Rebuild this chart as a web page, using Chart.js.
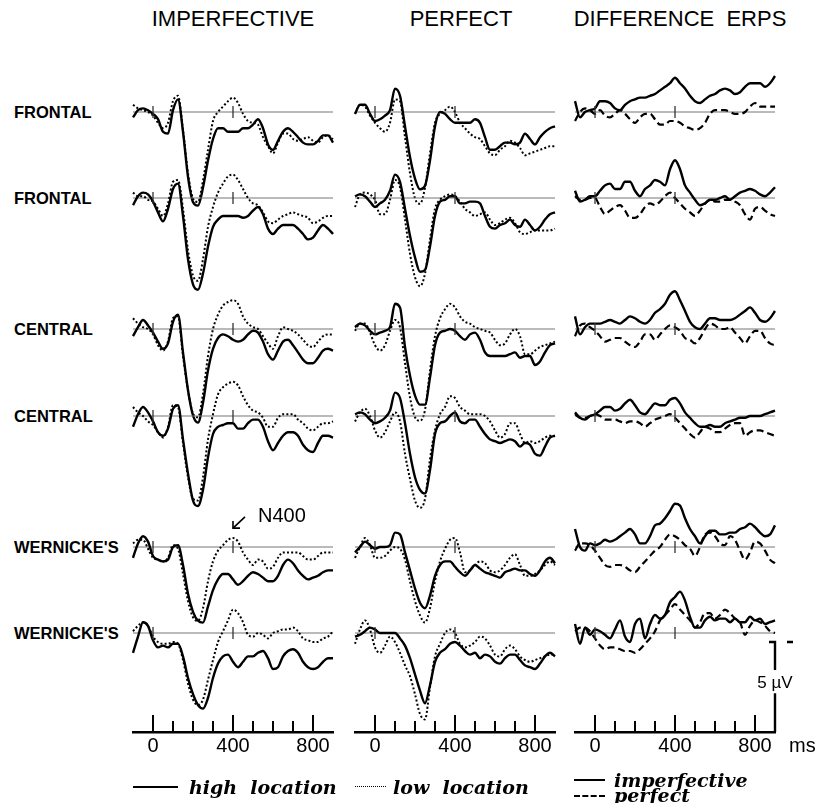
<!DOCTYPE html>
<html>
<head>
<meta charset="utf-8">
<script src="https://cdn.jsdelivr.net/npm/chart.js@4.4.1/dist/chart.umd.min.js"></script>
<style>
  body { margin: 0; background: #fff; }
  #page { position: relative; width: 817px; height: 803px; overflow: hidden; font-family: "Liberation Sans", Arial, sans-serif; color: #000; }
  canvas { position: absolute; }
  .head { position: absolute; top: 19px; font-size: 22px; transform: translate(-50%, -50%); white-space: pre; }
  .row { position: absolute; left: 14px; font-size: 16.5px; font-weight: bold; transform: translateY(-50%); white-space: pre; }
  .txt { position: absolute; font-size: 20px; transform: translateY(-50%); }
  .leg { position: absolute; font-family: "DejaVu Serif", serif; font-style: italic; font-weight: bold; font-size: 19px; transform: translateY(-50%); white-space: pre; }
  .sample { position: absolute; height: 0; }
</style>
</head>
<body>
<div id="page"></div>
<script>
// time axis (ms), every 25 ms
const times = [-100,-75,-50,-25,0,25,50,75,100,125,150,175,200,225,250,275,300,325,350,375,400,
               425,450,475,500,525,550,575,600,625,650,675,700,725,750,775,800,825,850,875,900];

// amplitudes in microvolts, negative up (as in the figure)
// --- IMPERFECTIVE: high location (solid) / low location (dotted)
const impF1High = [0.3,-0.1,-0.2,-0.1,0.1,0.4,1.1,1.2,-0.1,-0.7,1.1,3.6,5.0,5.2,4.2,2.7,1.5,0.9,0.9,1.1,1.1,1.1,0.9,0.9,0.7,0.4,0.9,1.8,2.1,1.6,1.1,0.9,1.1,1.4,1.7,1.8,1.8,1.6,1.3,1.3,1.7];
const impF1Low  = [-0.4,-0.2,-0.1,0,0.2,0.6,0.9,0.6,-0.6,-0.9,1.0,3.4,4.8,5.0,3.8,2.1,0.5,0,-0.3,-0.6,-0.8,-0.5,0.1,0.5,0.6,0.7,1.4,1.9,2.3,1.7,1.2,1.2,1.5,1.6,1.5,1.4,1.6,1.7,1.4,1.3,1.5];
const impF2High = [0.4,-0.1,-0.3,-0.2,0.2,0.8,1.3,0.6,-0.5,-0.8,1.0,3.4,4.8,5.1,4.2,2.7,1.6,1.2,1.0,1.0,1.0,1.0,1.1,1.0,0.7,0.5,0.9,1.7,2.0,1.7,1.5,1.5,1.5,1.7,2.0,2.3,2.2,1.8,1.5,1.7,2.0];
const impF2Low  = [-0.3,-0.1,-0.1,0.1,0.2,0.6,1.0,0.3,-0.9,-1.0,0.6,2.9,4.3,4.6,3.4,1.6,0.5,-0.3,-0.8,-1.2,-1.3,-1.0,-0.5,0,0.3,0.4,0.8,1.3,1.4,1.2,1.0,0.9,0.8,0.9,1.0,1.1,1.4,1.3,1.1,1.0,1.0];
const impC1High = [0.4,-0.1,-0.5,-0.2,0.2,0.7,1.1,0.8,-0.4,-0.8,1.3,3.4,4.8,5.2,4.1,2.3,1.1,0.5,0.3,0.4,0.6,0.7,0.6,0.3,0.1,0.2,0.7,1.4,1.7,1.2,0.7,0.6,0.9,1.3,1.7,1.9,1.9,1.6,1.2,1.1,1.2];
const impC1Low  = [-0.6,-0.3,-0.1,0,0.3,0.9,1.2,0.7,-0.6,-0.7,1.5,3.4,4.7,4.9,3.6,1.5,0,-0.8,-1.3,-1.5,-1.6,-1.4,-0.7,-0.3,-0.1,0,0.4,0.8,1.1,0.4,-0.1,0,0.1,0.3,0.6,0.9,1.0,0.7,0.4,0.3,0.3];
const impC2High = [0.6,-0.1,-0.5,-0.2,0.3,0.9,1.1,0.7,-0.4,-0.6,1.3,3.2,4.7,5.0,4.1,2.3,1.0,0.6,0.5,0.4,0.4,0.7,0.7,0.4,0.2,0.2,0.6,1.4,1.9,1.5,1.1,0.9,0.9,1.1,1.6,1.9,2.0,1.5,1.1,1.1,1.2];
const impC2Low  = [-0.5,-0.2,0,0.3,0.5,0.9,1.2,0.6,-0.6,-0.5,1.5,3.4,4.6,4.7,3.4,1.3,-0.1,-1.2,-1.6,-1.8,-1.9,-1.7,-1.1,-0.6,-0.3,-0.2,0.1,0.6,0.6,0.1,-0.1,-0.1,-0.1,0.2,0.4,0.7,0.8,0.6,0.4,0.4,0.3];
const impW1High = [0.6,-0.2,-0.6,-0.3,0.5,0.7,0.8,0.7,0,-0.1,1.0,2.6,3.6,4.1,4.2,3.3,2.4,1.8,1.5,1.5,1.8,2.1,1.9,1.6,1.4,1.5,1.7,1.9,1.9,1.6,1.0,0.7,0.9,1.3,1.6,1.8,1.7,1.6,1.4,1.3,1.3];
const impW1Low  = [-0.2,-0.4,-0.4,0.1,0.6,0.7,0.8,0.6,-0.1,0.1,1.5,3.0,3.9,4.1,3.4,1.9,0.8,0.2,-0.1,-0.4,-0.5,-0.3,0.3,0.7,1.0,0.7,0.8,1.2,1.1,0.6,0.3,0.3,0.3,0.3,0.5,0.7,0.7,0.5,0.3,0.3,0.3];
const impW2High = [1.1,0.2,-0.6,-0.4,0.4,0.8,0.7,0.8,0.6,0.6,1.3,2.5,3.4,4.0,4.2,3.6,2.5,1.7,1.3,1.2,1.6,1.9,1.6,1.3,1.3,1.1,1.0,1.4,2.0,1.9,1.3,1.0,0.9,1.1,1.6,1.9,2.0,1.9,1.6,1.4,1.4];
const impW2Low  = [-0.1,-0.4,-0.6,-0.4,0.2,0.5,0.6,0.6,0.5,0.6,1.5,2.8,3.7,4.0,3.7,2.6,1.5,0.5,-0.1,-0.7,-1.3,-1.1,-0.6,0.1,0.2,0,0.1,0.3,0,-0.1,-0.2,-0.2,-0.3,-0.1,0.3,0.4,0.5,0.5,0.3,0.2,-0.1];

// --- PERFECT: high location (solid) / low location (dotted)
const perfF1High = [0.1,-0.4,-0.4,0.1,0.5,0.4,0.2,-0.1,-1.3,-0.9,0.8,2.5,3.7,4.3,4.1,2.7,0.8,0,0.1,0.4,0.6,0.6,0.6,0.6,0.4,0.6,1.4,2.1,2.1,1.9,1.7,1.7,1.8,1.7,1.2,1.5,1.8,1.4,1.1,0.9,0.8];
const perfF1Low  = [0.1,-0.4,-0.3,0.2,0.6,0.9,1.1,0.6,-0.7,-0.6,1.4,3.4,4.8,5.1,4.2,2.3,0.6,0.1,-0.1,-0.3,0,0.6,0.9,1.2,1.4,1.5,1.9,2.3,2.4,2.1,1.9,1.6,1.7,2.0,2.4,2.3,2.2,2.1,2.0,1.9,1.9];
const perfF2High = [-0.1,-0.2,-0.1,0.2,0.5,0.3,0.1,-0.4,-1.3,-0.9,0.6,2.1,3.3,4.1,4.0,2.7,1.0,0.2,0.1,-0.1,-0.1,0.3,0.3,0.2,0.2,0.3,1.0,1.6,1.7,1.5,1.4,1.2,1.5,1.6,1.2,1.5,1.8,1.6,1.2,0.9,0.8];
const perfF2Low  = [0.5,-0.2,-0.3,-0.2,0.1,0.9,0.9,0.1,-1.0,-0.6,1.2,3.1,4.4,4.9,4.2,2.3,0.6,0.1,-0.1,-0.2,-0.1,0.2,0.6,0.8,1.0,0.9,0.8,1.2,1.5,1.4,1.2,1.1,1.4,1.9,2.0,1.9,1.8,1.8,1.8,1.8,1.7];
const perfC1High = [-0.1,-0.3,-0.2,0.1,0.3,0.2,0.1,-0.1,-1.4,-1.2,1.0,2.6,3.7,4.2,4.2,2.7,0.9,0.2,0.1,0,0.1,0.4,0.6,0.3,0.2,0.6,1.3,1.5,1.5,1.5,1.5,1.4,1.3,1.6,1.5,1.5,2.0,1.8,1.3,0.9,0.8];
const perfC1Low  = [0.1,-0.3,-0.3,0.2,0.9,1.2,0.9,0.1,-0.5,-0.1,1.9,3.8,4.9,5.1,4.5,2.3,0.4,-0.6,-1.1,-1.4,-1.2,-0.7,-0.4,-0.3,-0.1,0,0.1,0.2,0.6,0.9,0.8,0.3,0,0.4,1.4,1.4,1.2,1.0,0.9,0.8,0.7];
const perfC2High = [-0.1,-0.2,-0.1,0.2,0.4,0.3,0.1,-0.3,-1.3,-1.0,0.4,2.1,3.4,4.1,4.3,3.0,1.0,0.4,0.3,0,-0.2,0.3,0.4,0.2,0.2,0.6,1.0,1.3,1.4,1.5,1.4,1.3,1.4,1.7,1.5,1.6,2.1,2.2,1.7,1.2,1.1];
const perfC2Low  = [0.3,-0.2,-0.4,0,0.8,1.2,0.9,0.3,-0.2,0.3,2.1,3.5,4.7,5.1,4.6,2.4,0.8,-0.1,-0.5,-1.1,-1.0,-0.5,-0.3,-0.1,-0.1,-0.1,0,0.3,0.8,1.2,1.0,0.4,0.4,1.0,1.5,1.4,1.5,1.4,1.2,1.1,1.1];
const perfW1High = [0.3,0,-0.3,-0.1,0.1,0,0,-0.1,-0.8,-0.7,0.3,1.3,2.3,3.1,3.4,2.7,1.6,1.0,0.8,0.8,1.1,1.4,1.6,1.3,1.0,1.2,1.4,1.5,1.6,1.7,1.4,1.3,1.2,1.3,1.3,1.5,1.6,1.3,0.8,0.6,0.9];
const perfW1Low  = [0.6,0,-0.5,-0.1,0.6,0.6,0.5,0.2,0,0.1,0.7,1.9,3.0,3.8,4.2,3.4,1.9,0.8,0.1,-0.4,-0.5,0.3,1.4,1.3,1.0,0.8,0.9,1.3,1.4,1.3,1.0,0.6,0.4,1.0,1.6,1.6,1.5,1.3,1.0,0.8,1.0];
const perfW2High = [0.2,0.1,-0.1,-0.3,-0.2,0,0,0,0,0.3,0.7,1.4,2.3,3.2,3.9,2.9,1.6,1.1,0.9,0.6,0.5,0.7,1.0,1.2,1.1,1.4,1.2,1.3,1.6,1.7,1.4,1.2,1.2,1.5,1.8,1.9,2.0,1.7,1.3,1.1,1.3];
const perfW2Low  = [0.6,-0.2,-0.7,-0.2,0.8,1.1,0.7,0.2,0.5,1.1,1.8,2.4,3.4,4.5,4.8,3.0,1.3,0.6,0,-0.2,0,0.6,0.8,0.7,0.5,0.2,0.3,0.7,1.2,1.3,0.9,0.7,0.9,1.3,1.5,1.6,1.5,1.4,1.3,1.2,1.2];

// --- DIFFERENCE ERPS: imperfective (solid) / perfect (dashed)
const diffF1Imp  = [-0.6,0.3,0,-0.1,-0.2,-0.6,-0.6,-0.5,-0.2,-0.1,-0.4,-0.6,-0.7,-0.8,-0.8,-0.9,-1.0,-1.2,-1.4,-1.6,-1.9,-1.6,-1.3,-0.9,-0.6,-0.5,-0.7,-0.9,-1.0,-1.2,-1.3,-1.2,-1.0,-1.1,-1.4,-1.6,-1.6,-1.6,-1.4,-1.6,-2.0];
const diffF1Perf = [0.5,0,-0.2,-0.1,0.1,-0.1,0.2,0.3,0.1,-0.1,0.1,0.4,0.6,0.3,0.1,0.1,0.4,0.7,0.7,0.5,0.5,0.6,0.8,0.9,1.0,0.9,0.6,0.1,-0.1,-0.1,-0.1,0,0.1,0.1,0,-0.3,-0.5,-0.3,-0.3,-0.3,-0.3];
const diffF2Imp  = [-0.4,0.2,0.1,-0.1,-0.1,-0.4,-0.7,-0.8,-0.5,-0.5,-0.9,-0.9,-0.4,-0.1,-0.5,-0.7,-1.0,-0.9,-0.7,-1.6,-2.1,-1.6,-0.7,-0.3,0.1,0.4,0.3,0.1,0.1,0,-0.1,0.1,-0.1,-0.3,-0.4,-0.5,-0.4,-0.2,-0.1,-0.3,-0.6];
const diffF2Perf = [-0.1,0.1,0.1,0,0,0.5,0.9,0.7,0.5,0.4,0.7,1.1,1.1,0.9,0.5,0.3,0.4,0.2,-0.1,-0.3,0,0.3,0.6,0.8,1.0,0.7,0.3,0.1,0.2,0.2,0.1,0.1,0.2,0.4,0.9,1.2,0.6,0.5,0.7,0.9,1.0];
const diffC1Imp  = [-0.7,0.3,-0.1,-0.3,-0.3,-0.3,-0.4,-0.5,-0.4,-0.3,-0.5,-0.7,-0.6,-0.4,-0.3,-0.5,-0.9,-1.1,-1.4,-1.9,-2.1,-1.6,-1.0,-0.4,-0.1,0,-0.3,-0.6,-0.6,-0.5,-0.5,-0.5,-0.6,-0.8,-1.0,-1.2,-0.9,-0.5,-0.4,-0.6,-1.0];
const diffC1Perf = [0.4,-0.2,-0.3,-0.1,0.1,0.4,0.7,0.6,0.5,0.5,0.7,0.9,1.0,0.7,0.3,0.3,0.6,0.3,0,-0.2,-0.1,0.1,0.5,0.6,0.8,0.5,0,-0.3,-0.2,0,0,-0.1,0.2,0.5,0.8,0.4,0.1,0.1,0.5,0.8,0.9];
const diffC2Imp  = [-0.2,0.1,0.2,0,-0.1,-0.3,-0.5,-0.5,-0.3,-0.4,-0.7,-0.9,-0.6,-0.2,-0.1,-0.4,-0.7,-0.6,-0.6,-0.9,-1.0,-0.7,-0.2,0.1,0.4,0.6,0.6,0.5,0.6,0.6,0.4,0.3,0.2,0.1,0.1,0,0,0,-0.1,-0.2,-0.3];
const diffC2Perf = [-0.1,0.1,0.1,0,-0.1,0,0.2,0.2,0.2,0.3,0.4,0.3,0.3,0.4,0.6,0.4,0.2,0.1,0,-0.1,0.1,0.4,0.7,1.0,1.2,0.9,0.6,0.7,0.9,0.9,0.7,0.5,0.4,0.4,1.1,0.9,0.8,0.8,0.9,1.0,1.1];
const diffW1Imp  = [-1.0,0,0.2,-0.2,-0.1,-0.2,-0.4,-0.3,-0.4,-0.6,-0.8,-1.0,-0.7,-0.2,-0.2,-0.6,-1.2,-1.3,-1.6,-2.0,-2.4,-2.3,-1.6,-1.0,-0.6,-0.2,-0.6,-0.9,-0.9,-0.7,-0.7,-0.8,-0.8,-1.0,-1.1,-1.3,-1.1,-0.8,-0.6,-0.7,-1.2];
const diffW1Perf = [0.2,-0.2,-0.2,-0.1,0.2,0.6,1.0,1.1,1.0,1.0,1.1,1.3,1.4,1.1,0.8,0.5,0.2,0,-0.4,-0.7,-0.6,-0.4,-0.1,0.1,0.5,0,-0.7,-0.8,-0.6,-0.2,-0.1,-0.6,-0.4,0.2,0.7,0.3,-0.3,-0.2,0.2,0.7,0.9];
const diffW2Imp  = [-0.5,0.6,-0.3,0.1,-0.2,-0.1,0.1,0.3,-0.2,-0.7,0.2,0.5,-0.5,-0.8,0.3,-0.5,-1.0,-0.8,-1.0,-1.7,-2.0,-2.3,-1.8,-0.9,-0.3,-0.3,-0.7,-0.9,-0.7,-0.8,-0.8,-0.6,-0.8,-0.6,-0.6,-0.9,-0.7,-0.8,-0.5,-0.6,-0.7];
const diffW2Perf = [-0.1,-0.3,-0.3,-0.1,0.3,0.7,0.9,0.8,0.8,0.9,1.0,1.0,1.1,0.9,0.6,0.3,-0.1,-0.7,-1.0,-1.3,-1.6,-1.3,-1.0,-0.7,-0.3,-0.6,-1.1,-1.1,-0.8,-1.0,-1.3,-1.1,-0.8,-0.6,0.1,-0.4,-0.7,-0.6,-0.4,-0.1,0];

const columnTitles = ["IMPERFECTIVE", "PERFECT", "DIFFERENCE  ERPS"];
const rowNames = ["FRONTAL", "FRONTAL", "CENTRAL", "CENTRAL", "WERNICKE'S", "WERNICKE'S"];
const markerTimes = [0, 400];
const axisTickTimes = [0, 100, 200, 300, 400, 500, 600, 700, 800];
const xTickLabels = [0, 400, 800];
const scaleBarUV = 5;

// layout
const rowBase = [112, 198, 329, 416, 547, 633];
const colLeft = [133, 355, 575];
const titleX = [233, 461, 680];
const PANEL_W = 200, PX_PER_UV = 18, ABOVE = 50, BELOW = 114;
const PAD = { left: 6, right: 30, top: 6, bottom: 6 };
const AXIS_Y = 732;

const page = document.getElementById('page');

function addCanvas(left, top, w, h) {
  const cv = document.createElement('canvas');
  cv.width = w; cv.height = h;
  cv.style.left = left + 'px'; cv.style.top = top + 'px';
  cv.style.width = w + 'px'; cv.style.height = h + 'px';
  page.appendChild(cv);
  return cv;
}

function addDiv(cls, text, left, top) {
  const d = document.createElement('div');
  d.className = cls; d.textContent = text;
  d.style.left = left + 'px'; d.style.top = top + 'px';
  page.appendChild(d);
  return d;
}

const pts = vals => times.map((t, i) => ({ x: t, y: vals[i] }));

const onsetTicks = {
  id: 'onsetTicks',
  afterDatasetsDraw(chart) {
    const { ctx, scales: { x, y } } = chart;
    const y0 = y.getPixelForValue(0);
    ctx.save();
    ctx.strokeStyle = '#333'; ctx.lineWidth = 1.3;
    markerTimes.forEach(t => {
      const px = x.getPixelForValue(t);
      ctx.beginPath(); ctx.moveTo(px, y0 - 6); ctx.lineTo(px, y0 + 6); ctx.stroke();
    });
    ctx.restore();
  }
};

const n400Note = {
  id: 'n400Note',
  afterDraw(chart) {
    const { ctx, scales: { x, y } } = chart;
    const tipX = x.getPixelForValue(400), tipY = y.getPixelForValue(-1.05);
    const tailX = x.getPixelForValue(460), tailY = y.getPixelForValue(-1.67);
    ctx.save();
    ctx.strokeStyle = '#000'; ctx.lineWidth = 1.6;
    ctx.beginPath(); ctx.moveTo(tailX, tailY); ctx.lineTo(tipX, tipY); ctx.stroke();
    ctx.beginPath();
    ctx.moveTo(tipX + 7, tipY); ctx.lineTo(tipX, tipY); ctx.lineTo(tipX, tipY - 7);
    ctx.stroke();
    ctx.fillStyle = '#000';
    ctx.font = '20px "Liberation Sans", Arial, sans-serif';
    ctx.textBaseline = 'middle';
    ctx.fillText('N400', x.getPixelForValue(525), tailY);
    ctx.restore();
  }
};

const scaleBar = {
  id: 'scaleBar',
  afterDraw(chart) {
    const { ctx, scales: { x, y } } = chart;
    const bx = x.getPixelForValue(900);
    const top = y.getPixelForValue(0.5), bottom = y.getPixelForValue(0.5 + scaleBarUV);
    const gapTop = y.getPixelForValue(2.05), gapBottom = y.getPixelForValue(3.35);
    const textY = y.getPixelForValue(2.8);
    ctx.save();
    ctx.strokeStyle = '#000'; ctx.lineWidth = 2.4;
    ctx.beginPath();
    ctx.moveTo(bx - 6, top); ctx.lineTo(bx, top); ctx.lineTo(bx, gapTop);
    ctx.moveTo(bx, gapBottom); ctx.lineTo(bx, bottom);
    ctx.moveTo(bx + 12, top); ctx.lineTo(bx + 18, top);
    ctx.stroke();
    ctx.fillStyle = '#000';
    ctx.font = '17px "Liberation Sans", Arial, sans-serif';
    ctx.textAlign = 'center'; ctx.textBaseline = 'middle';
    ctx.fillText(scaleBarUV + ' \u00b5V', bx, textY);
    ctx.restore();
  }
};

const axisTicks = {
  id: 'axisTicks',
  afterDraw(chart) {
    const { ctx, chartArea, scales: { x } } = chart;
    ctx.save();
    ctx.strokeStyle = '#000'; ctx.lineWidth = 2;
    axisTickTimes.forEach(t => {
      const px = x.getPixelForValue(t);
      const len = xTickLabels.includes(t) ? 17 : 11;
      ctx.beginPath(); ctx.moveTo(px, chartArea.bottom); ctx.lineTo(px, chartArea.bottom - len); ctx.stroke();
    });
    ctx.restore();
  }
};

function panel(r, c, solid, broken, dash, dashWidth, extra) {
  const cv = addCanvas(colLeft[c] - PAD.left, rowBase[r] - ABOVE - PAD.top,
                       PAD.left + PANEL_W + PAD.right, PAD.top + ABOVE + BELOW + PAD.bottom);
  return new Chart(cv, {
    type: 'line',
    data: {
      datasets: [
        { data: pts(solid), borderColor: '#000', borderWidth: 2.4 },
        { data: pts(broken), borderColor: '#000', borderWidth: dashWidth, borderDash: dash },
        { data: [{ x: -100, y: 0 }, { x: 900, y: 0 }], borderColor: '#777', borderWidth: 1.2 }
      ]
    },
    options: {
      animation: false, responsive: false, devicePixelRatio: 1, events: [],
      layout: { padding: PAD },
      elements: { point: { radius: 0 }, line: { cubicInterpolationMode: 'monotone', fill: false } },
      datasets: { line: { clip: false } },
      plugins: { legend: { display: false }, tooltip: { enabled: false } },
      scales: {
        x: { type: 'linear', min: -100, max: 900, display: false },
        y: { min: -ABOVE / PX_PER_UV, max: BELOW / PX_PER_UV, reverse: true, display: false }
      }
    },
    plugins: [onsetTicks].concat(extra || [])
  });
}

function axisChart(c) {
  const cv = addCanvas(colLeft[c] - PAD.left, AXIS_Y - 20, PAD.left + PANEL_W + PAD.right, 60);
  return new Chart(cv, {
    type: 'line',
    data: { datasets: [] },
    options: {
      animation: false, responsive: false, devicePixelRatio: 1, events: [],
      layout: { padding: { left: PAD.left, right: PAD.right, top: 0, bottom: 0 } },
      plugins: { legend: { display: false }, tooltip: { enabled: false } },
      scales: {
        x: {
          type: 'linear', min: -100, max: 900, position: 'bottom',
          grid: { display: false, drawTicks: false, tickLength: 0 },
          border: { display: true, color: '#000', width: 2.4 },
          ticks: {
            stepSize: 100, autoSkip: false, maxRotation: 0, padding: 2, color: '#000',
            font: { family: '"Liberation Sans", Arial, sans-serif', size: 20 },
            callback: v => xTickLabels.includes(v) ? String(v) : ''
          },
          afterFit: s => { s.height = 40; }
        },
        y: { display: false, min: 0, max: 1 }
      }
    },
    plugins: [axisTicks]
  });
}

// titles and row labels
columnTitles.forEach((t, c) => addDiv('head', t, titleX[c], 19));
rowNames.forEach((n, r) => addDiv('row', n, 14, rowBase[r]));

const DOT = [2, 2.2], DASH = [7, 4];
const impRows  = [[impF1High, impF1Low], [impF2High, impF2Low], [impC1High, impC1Low], [impC2High, impC2Low], [impW1High, impW1Low], [impW2High, impW2Low]];
const perfRows = [[perfF1High, perfF1Low], [perfF2High, perfF2Low], [perfC1High, perfC1Low], [perfC2High, perfC2Low], [perfW1High, perfW1Low], [perfW2High, perfW2Low]];
const diffRows = [[diffF1Imp, diffF1Perf], [diffF2Imp, diffF2Perf], [diffC1Imp, diffC1Perf], [diffC2Imp, diffC2Perf], [diffW1Imp, diffW1Perf], [diffW2Imp, diffW2Perf]];

impRows.forEach((p, r) => panel(r, 0, p[0], p[1], DOT, 2, r === 4 ? [n400Note] : []));
perfRows.forEach((p, r) => panel(r, 1, p[0], p[1], DOT, 2, []));
diffRows.forEach((p, r) => panel(r, 2, p[0], p[1], DASH, 2.2, r === 5 ? [scaleBar] : []));

[0, 1, 2].forEach(axisChart);
addDiv('txt', 'ms', 789, 745);

// legend
function sample(left, top, width, style) {
  const d = document.createElement('div');
  d.className = 'sample';
  d.style.left = left + 'px'; d.style.top = top + 'px'; d.style.width = width + 'px';
  d.style.borderTop = style;
  page.appendChild(d);
}
sample(133, 786, 45, '2.5px solid #000');
addDiv('leg', 'high  location', 189, 787);
sample(355, 786, 31, '1.5px dotted #000');
addDiv('leg', 'low  location', 393, 787);
sample(574, 779, 31, '2.5px solid #000');
addDiv('leg', 'imperfective', 614, 780);
sample(574, 795, 31, '2.5px dashed #000');
addDiv('leg', 'perfect', 614, 795);
</script>
</body>
</html>
